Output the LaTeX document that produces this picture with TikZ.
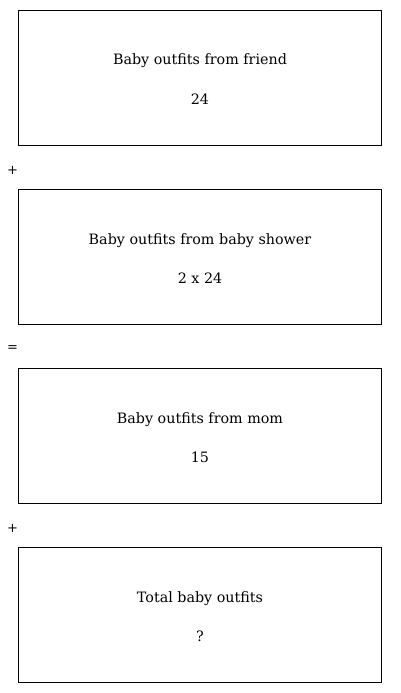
\documentclass[tikz,border=0pt]{standalone}
\usepackage{fontspec}
\setmainfont{DejaVu Serif}
\begin{document}
\begin{tikzpicture}[x=1pt,y=-1pt,
  box/.style={draw=black,line width=0.8pt,minimum width=363pt,minimum height=135pt,anchor=north west,inner sep=0pt},
  lbl/.style={font=\fontsize{14.3}{17}\selectfont,anchor=base,inner sep=0pt},
  op/.style={font=\fontsize{13}{15}\selectfont,anchor=center,inner sep=0pt}]
\useasboundingbox (0,0) rectangle (400,693);
\foreach \i/\ya/\yb/\n in {0/Baby outfits from friend/24/a,1/Baby outfits from baby shower/2 x 24/b,2/Baby outfits from mom/15/c,3/Total baby outfits/?/d}{
  \node[box] (box\n) at (18,{10+179*\i}) {};
  \node[lbl] (t\n) at (200,{65+179*\i}) {\ya};
  \node[lbl] (v\n) at (200,{104+179*\i}) {\yb};
}
\node[op] (p1) at (12.5,170) {+};
\node[op] (eq) at (12.5,349) {=};
\node[op] (p2) at (12.5,528) {+};
\end{tikzpicture}
\end{document}
